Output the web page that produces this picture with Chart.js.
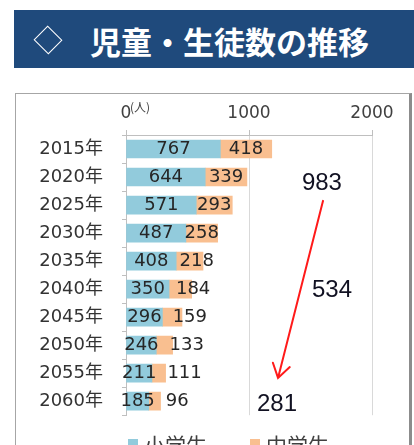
<!DOCTYPE html>
<html>
<head>
<meta charset="utf-8">
<script src="https://cdn.jsdelivr.net/npm/chart.js@4.4.1/dist/chart.umd.min.js"></script>
<style>
  html, body { margin: 0; padding: 0; background: #fff; width: 414px; height: 445px; overflow: hidden; }
  #banner { position: absolute; left: 14px; top: 10px; width: 400px; height: 58px; background: #1f4a7c; }
  #diamond { position: absolute; left: 24px; top: 20px; width: 20px; height: 20px; border: 1.6px solid #fff; transform: rotate(45deg) scaleX(1.05); box-sizing: border-box; }
  #title { position: absolute; left: 76px; top: 2px; line-height: 58px; color: #fff; font-family: "Noto Sans CJK JP"; font-weight: bold; font-size: 31px; white-space: nowrap; }
  #frame { position: absolute; left: 15px; top: 93px; width: 393px; height: 400px; border: 1px solid #a6a6a6; border-right: 3px solid #8c8c8c; }
  #chart { position: absolute; left: 0; top: 0; z-index: 2; }
</style>
</head>
<body>
<div id="banner"><div id="diamond"></div><div id="title">児童・生徒数の推移</div></div>
<div id="frame"></div>
<canvas id="chart" width="414" height="445"></canvas>
<script>
// data
const years = ['2015年', '2020年', '2025年', '2030年', '2035年', '2040年', '2045年', '2050年', '2055年', '2060年'];
const elementary = [767, 644, 571, 487, 408, 350, 296, 246, 211, 185];   // 小学生
const juniorHigh = [418, 339, 293, 258, 218, 184, 159, 133, 111, 96];     // 中学生
const seriesNames = ['小学生', '中学生'];
const xTicks = [0, 1000, 2000];

const colors = ['#92cbdc', '#f9bf90'];
const textColor = '#333333';

// value labels inside bars, totals + arrow, unit, legend
const extrasPlugin = {
    id: 'extras',
    afterDatasetsDraw(chart) {
        const ctx = chart.ctx;
        const m0 = chart.getDatasetMeta(0);
        const m1 = chart.getDatasetMeta(1);
        ctx.save();
        ctx.font = '18px "DejaVu Sans"';
        ctx.fillStyle = '#262626';
        ctx.textBaseline = 'middle';
        ctx.textAlign = 'left';
        m0.data.forEach((bar, i) => {
            const t0 = String(elementary[i]);
            const w0 = ctx.measureText(t0).width;
            const x0 = (bar.x + bar.base) / 2 - w0 / 2;
            ctx.fillText(t0, x0, bar.y);
            // orange label is pushed right so it never overlaps the blue one
            const b1 = m1.data[i];
            const t1 = String(juniorHigh[i]);
            const w1 = ctx.measureText(t1).width;
            const x1 = Math.max((b1.x + b1.base) / 2 - w1 / 2, x0 + w0 + 11);
            ctx.fillText(t1, x1, b1.y);
        });
        ctx.restore();
    },
    afterDraw(chart) {
        const ctx = chart.ctx;
        const xs = chart.scales.x;
        const ys = chart.scales.y;
        const totals = elementary.map((v, i) => v + juniorHigh[i]);
        ctx.save();

        // unit next to 0
        ctx.font = '12px "Noto Sans CJK JP"';
        ctx.fillStyle = '#404040';
        ctx.textBaseline = 'middle';
        ctx.textAlign = 'left';
        ctx.fillText('(人)', xs.getPixelForValue(0) + 4, 107);

        // totals
        ctx.font = '24px "Liberation Sans"';
        ctx.fillStyle = '#111122';
        ctx.textAlign = 'center';
        ctx.fillText(String(totals[1]), xs.getPixelForValue(1593), ys.getPixelForValue(1.22));
        ctx.fillText(String(totals[5]), xs.getPixelForValue(1675), ys.getPixelForValue(5.04));
        ctx.fillText(String(totals[9]), xs.getPixelForValue(1228), ys.getPixelForValue(9.1));

        // red arrow
        const sx = xs.getPixelForValue(1602), sy = ys.getPixelForValue(1.85);
        const ex = xs.getPixelForValue(1236), ey = ys.getPixelForValue(8.17);
        const ang = Math.atan2(sy - ey, sx - ex);
        const head = 16, spread = 33 * Math.PI / 180;
        ctx.strokeStyle = '#ff1a1a';
        ctx.lineWidth = 2;
        ctx.lineCap = 'round';
        ctx.beginPath();
        ctx.moveTo(sx, sy);
        ctx.lineTo(ex, ey);
        ctx.moveTo(ex + head * Math.cos(ang - spread), ey + head * Math.sin(ang - spread));
        ctx.lineTo(ex, ey);
        ctx.lineTo(ex + head * Math.cos(ang + spread), ey + head * Math.sin(ang + spread));
        ctx.stroke();

        // legend (cut off by the bottom edge, like the original)
        const legendX = [128, 250];
        ctx.font = '21px "Noto Sans CJK JP"';
        ctx.textAlign = 'left';
        seriesNames.forEach((name, i) => {
            ctx.fillStyle = colors[i];
            ctx.fillRect(legendX[i], 439, 10, 10);
            ctx.fillStyle = '#404040';
            ctx.fillText(name, legendX[i] + 16, 445);
        });
        ctx.restore();
    }
};

new Chart(document.getElementById('chart'), {
    type: 'bar',
    data: {
        labels: years,
        datasets: [
            { label: seriesNames[0], data: elementary, backgroundColor: colors[0] },
            { label: seriesNames[1], data: juniorHigh, backgroundColor: colors[1] }
        ]
    },
    options: {
        indexAxis: 'y',
        responsive: false,
        animation: false,
        layout: { padding: { top: 0, right: 42, bottom: 25, left: 0 } },
        datasets: { bar: { barThickness: 18 } },
        plugins: { legend: { display: false }, tooltip: { enabled: false } },
        scales: {
            x: {
                position: 'top',
                stacked: true,
                min: 0,
                max: 2000,
                afterBuildTicks: (scale) => { scale.ticks = xTicks.map(v => ({ value: v })); },
                afterFit: (scale) => { scale.height = 135; },
                grid: { color: '#d9d9d9', tickLength: 5, tickColor: '#bfbfbf' },
                border: { color: '#bfbfbf' },
                ticks: {
                    color: '#404040',
                    padding: 6,
                    font: { family: '"DejaVu Sans"', size: 17 },
                    callback: (value) => String(value)
                }
            },
            y: {
                stacked: true,
                afterFit: (scale) => { scale.width = 126; },
                grid: { drawOnChartArea: false, tickLength: 4, color: '#bfbfbf' },
                border: { color: '#bfbfbf' },
                ticks: { color: textColor, padding: 19, font: { family: '"DejaVu Sans", "Noto Sans CJK JP"', size: 18 } }
            }
        }
    },
    plugins: [extrasPlugin]
});
</script>
</body>
</html>
